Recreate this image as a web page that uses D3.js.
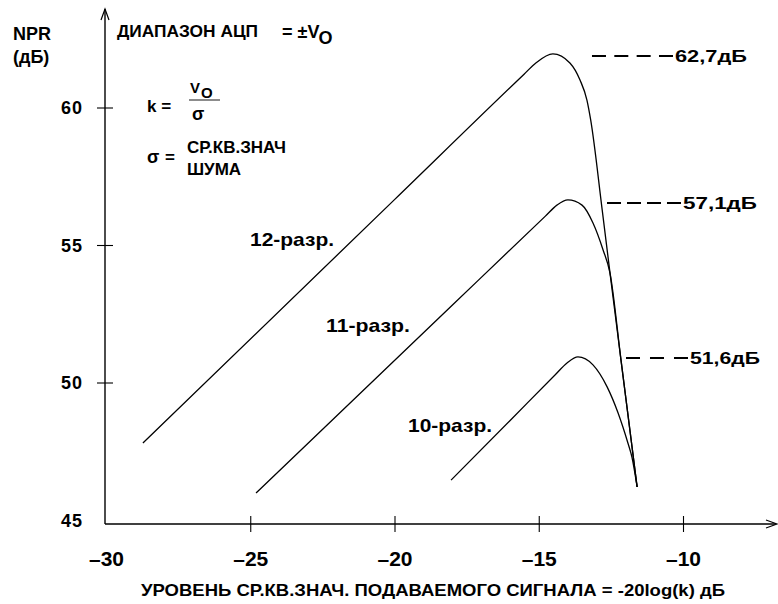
<!DOCTYPE html>
<html><head><meta charset="utf-8">
<script src="https://cdn.jsdelivr.net/npm/d3@7"></script>
<style>
body{margin:0;background:#fff}
svg{display:block}
text{font-family:"Liberation Sans",Arial,sans-serif;font-weight:bold;fill:#000}
</style>
</head><body><svg id="c" width="778" height="604"></svg>
<script>
// ---- data ----
const xTicks = [-30, -25, -20, -15, -10];
const xTickLabels = ["–30", "–25", "–20", "–15", "–10"];
const yTicks = [45, 50, 55, 60];
const yTickLabels = ["45", "50", "55", "60"];
const seriesNames = ["12-разр.", "11-разр.", "10-разр."];
const bits12 = [[-28.72,47.8],[-20,56.65],[-15.5,61.22],[-15.1,61.62],[-14.51,61.95],[-13.92,61.62],[-13.57,61.0],[-13.33,60.27],[-13.2,59.55],[-12.8,56.27],[-12.53,53.98],[-12.15,50.82],[-11.59,46.2]];
const bits11 = [[-24.8,45.98],[-18,52.81],[-14.77,56.05],[-14.37,56.45],[-13.99,56.64],[-13.5,56.45],[-13.12,55.8],[-12.77,54.82],[-12.53,53.98],[-12.15,50.82],[-11.59,46.2]];
const bits10 = [[-18.04,46.45],[-16,48.61],[-14.42,50.29],[-14.02,50.71],[-13.64,50.93],[-13.12,50.64],[-12.63,49.84],[-12.25,48.89],[-11.91,47.8],[-11.77,47.29],[-11.59,46.2]];
const peakLabels = ["62,7дБ", "57,1дБ", "51,6дБ"];
const peakLevels = [61.87, 56.53, 50.89];
const peakLineStart = [-13.155, -12.634, -11.976];
const peakLineEnd = [-10.347, -10.07, -9.827];

// ---- scales ----
const x = d3.scaleLinear().domain([-30, -10]).range([106, 683]);
const y = d3.scaleLinear().domain([60, 50]).range([107.5, 382.5]);
const svg = d3.select("#c");

const axisY0 = 524, axisX0 = 105;
const narrow = "'Liberation Sans Narrow','Liberation Sans',Arial,sans-serif";

// axes lines with open arrows
svg.append("line").attr("x1", axisX0).attr("y1", axisY0).attr("x2", axisX0).attr("y2", 9)
  .attr("stroke", "#000").attr("stroke-width", 1.4);
svg.append("path").attr("d", `M${axisX0-4},20L${axisX0},9L${axisX0+4},20`).attr("fill", "none").attr("stroke", "#000").attr("stroke-width", 1.2);
svg.append("line").attr("x1", axisX0).attr("y1", axisY0).attr("x2", 776).attr("y2", axisY0)
  .attr("stroke", "#000").attr("stroke-width", 1.4);
svg.append("path").attr("d", `M766,520L777,${axisY0}L766,528`).attr("fill", "none").attr("stroke", "#000").attr("stroke-width", 1.2);

// x axis ticks via d3 axis
const gx = svg.append("g").attr("transform", `translate(0,${axisY0})`)
  .call(d3.axisBottom(x).tickValues(xTicks).tickSize(8).tickFormat((d, i) => xTickLabels[i]));
gx.select(".domain").remove();
gx.selectAll(".tick line").attr("y1", -8).attr("y2", 8).attr("stroke", "#000").attr("stroke-width", 1.1)
  .filter(d => d === -30).remove();
gx.selectAll(".tick text").attr("y", 42).attr("dy", null)
  .style("font-size", "21px").style("font-family", narrow)
  .attr("text-anchor", "middle");

// y axis ticks via d3 axis
const gy = svg.append("g").attr("transform", `translate(${axisX0},0)`)
  .call(d3.axisLeft(y).tickValues(yTicks).tickSize(8).tickFormat((d, i) => yTickLabels[i]));
gy.select(".domain").remove();
gy.selectAll(".tick line").attr("x1", -8).attr("x2", 8).attr("stroke", "#000").attr("stroke-width", 1.1)
  .filter(d => d === 45).remove();
gy.selectAll(".tick text").attr("x", -22).attr("dy", "0.35em")
  .style("font-size", "18px").style("letter-spacing", "1px").attr("text-anchor", "end");

// curves
const line = d3.line().x(d => x(d[0])).y(d => y(d[1])).curve(d3.curveMonotoneX);
[bits12, bits11, bits10].forEach(s => {
  svg.append("path").attr("d", line(s)).attr("fill", "none").attr("stroke", "#000").attr("stroke-width", 1.3);
});

// peak annotations
const peakW = [72, 74, 70];
const dashCount = [4, 4, 3];
peakLabels.forEach((lab, i) => {
  const x1 = x(peakLineStart[i]), x2 = x(peakLineEnd[i]);
  const L = x2 - x1, d = 14, n = dashCount[i];
  const g = (L - n * d) / (n - 1);
  svg.append("line").attr("x1", x1).attr("x2", x2)
    .attr("y1", y(peakLevels[i])).attr("y2", y(peakLevels[i]))
    .attr("stroke", "#000").attr("stroke-width", 2).attr("stroke-dasharray", `${d},${g}`);
  svg.append("text").attr("x", x2 + 2).attr("y", y(peakLevels[i])).attr("dy", "0.36em")
    .style("font-size", "17px").attr("textLength", peakW[i]).attr("lengthAdjust", "spacingAndGlyphs").text(lab);
});

// series labels
const labPos = [[250, 246], [326, 332], [408, 432]];
seriesNames.forEach((n, i) => {
  svg.append("text").attr("x", labPos[i][0]).attr("y", labPos[i][1]).style("font-size", "19px")
    .attr("textLength", 84).attr("lengthAdjust", "spacingAndGlyphs").text(n);
});

// axis titles
svg.append("text").attr("x", 13).attr("y", 40).style("font-size", "18px").text("NPR");
svg.append("text").attr("x", 13).attr("y", 63).style("font-size", "18px").text("(дБ)");
svg.append("text").attr("x", 141).attr("y", 596)
  .style("font-size", "17px").style("font-family", narrow)
  .attr("textLength", 584).attr("lengthAdjust", "spacingAndGlyphs")
  .text("УРОВЕНЬ СР.КВ.ЗНАЧ. ПОДАВАЕМОГО СИГНАЛА = -20log(k) дБ");

// legend block
svg.append("text").attr("x", 117).attr("y", 37).style("font-size", "17px")
  .attr("textLength", 141).attr("lengthAdjust", "spacingAndGlyphs").text("ДИАПАЗОН АЦП");
const t1 = svg.append("text").attr("x", 282).attr("y", 38).style("font-size", "18px");
t1.append("tspan").text("= ±V");
t1.append("tspan").attr("dy", 6).attr("dx", -1).text("O");

svg.append("text").attr("x", 147).attr("y", 112).style("font-size", "17px").text("k =");
svg.append("text").attr("x", 190).attr("y", 93).style("font-size", "15px").text("V");
svg.append("text").attr("x", 201).attr("y", 98).style("font-size", "15px").text("O");
svg.append("line").attr("x1", 189).attr("x2", 220).attr("y1", 100).attr("y2", 100).attr("stroke", "#666").attr("stroke-width", 1.5);
svg.append("text").attr("x", 192).attr("y", 120).style("font-size", "18px").text("σ");

svg.append("text").attr("x", 147).attr("y", 163).style("font-size", "18px").text("σ");
svg.append("text").attr("x", 165).attr("y", 163).style("font-size", "17px").text("=");
svg.append("text").attr("x", 187).attr("y", 153).style("font-size", "17px").text("СР.КВ.ЗНАЧ");
svg.append("text").attr("x", 187).attr("y", 175).style("font-size", "17px").text("ШУМА");
</script>
</body></html>
